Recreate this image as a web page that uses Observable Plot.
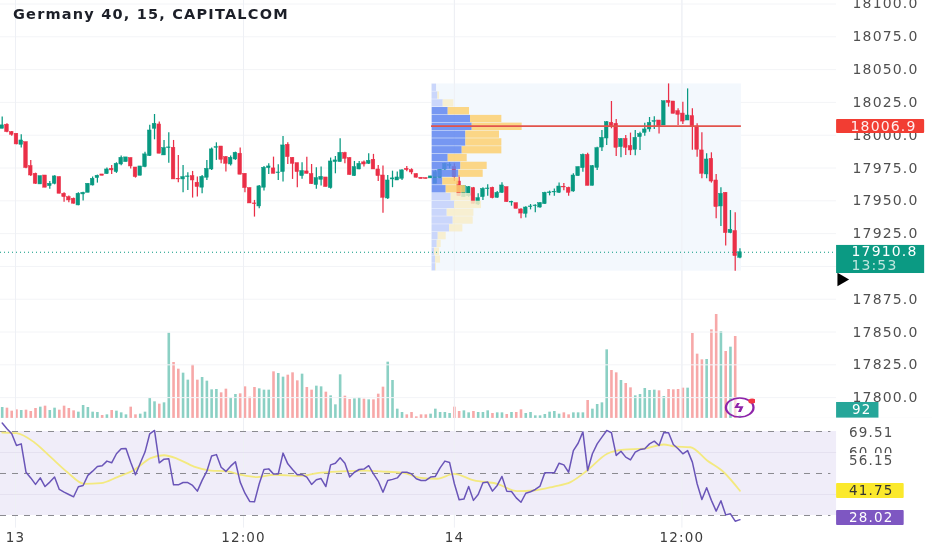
<!DOCTYPE html>
<html><head><meta charset="utf-8">
<script src="https://cdn.jsdelivr.net/npm/d3@7"></script>
<script src="https://cdn.jsdelivr.net/npm/@observablehq/plot@0.6"></script>
<style>
html,body{margin:0;padding:0;background:#fff;width:932px;height:550px;overflow:hidden}
#stage{position:relative;width:932px;height:550px;overflow:hidden;filter:blur(.3px)}
.layer{position:absolute;left:0;top:0}
.layer svg{display:block;background:transparent}
svg text{letter-spacing:1.15px}
#title{position:absolute;left:13px;top:6px;font:700 14.5px "DejaVu Sans",sans-serif;color:#1c1f28;letter-spacing:1.2px;white-space:nowrap}
#logo{position:absolute;left:728px;top:396px;width:22px;height:22px;transform:scaleX(1.45)}
</style></head><body>
<div id="stage"><div id="title">Germany 40, 15, CAPITALCOM</div></div>
<script>
const opens=[18004.9,18008,18002.4,18001.1,17992.7,17994.7,17976.5,17970.6,17962.5,17969.3,
17961.2,17963,17968.1,17955.4,17952.8,17951.6,17946.5,17954.9,17956.1,17961.7,
17967.3,17970.1,17970.4,17974.4,17971.9,17977.7,17979.5,17982.6,17975.4,17969.1,
17975.7,17984.1,18004.9,18008.2,17984.6,17990.2,17990.4,17966.8,17966.3,17968.1,
17968.8,17963.8,17960,17967.6,17973.9,17990.4,17991.4,17983.3,17977.7,17981.5,
17985.9,17970.6,17959.7,17948,17945.7,17960,17974.9,17974.7,17971.1,17971.9,
17992.7,17982.8,17978.7,17968.8,17972.4,17970.4,17962,17966,17967.8,17959.7,
17979.5,17979.5,17986.4,17982.6,17968.8,17973.9,17979.3,17978.2,17981.3,17973.9,
17969.3,17951.8,17966.3,17965.5,17966.8,17974.4,17973.4,17970.4,17967.6,17967.3,
17967.1,17963,17967.3,17973.9,17976.7,17975.7,17964.7,17952.8,17953.5,17959.6,
17947.2,17952.8,17958.9,17959.9,17952.3,17956.1,17960.4,17948.7,17948.2,17943.4,
17940.1,17945.2,17945.9,17944.9,17947.5,17955.8,17956.4,17956.1,17960.7,17959.9,
17957.1,17968.8,17974.9,17985,17961.4,17975.1,17990.6,17997.5,18009.4,18008.7,
17990.9,17997.2,17991.7,17988.9,17998.5,18001.8,18004.4,18010.2,18011.2,18007.4,
18026.2,18025.7,18018.3,18016.5,18011.2,18014.5,18006.6,17988.4,17970.1,17982,
17965.5,17945.7,17956.1,17925.4,17926.9,17906.6];
const closes=[18007.5,18002.4,18000.3,17993,17996,17975,17969.3,17963,17968.8,17960,
17963,17968.6,17955.4,17952.8,17950.3,17947.8,17955.4,17956.1,17963,17966.8,
17969.1,17969.1,17973.9,17973.2,17978.2,17982.8,17983.1,17976.2,17968.1,17976.2,
17985.4,18003.6,18008.7,17985.9,17990.2,17990.7,17966.3,17966.3,17968.1,17968.6,
17965.5,17960.5,17968.3,17974.4,17989.2,17990.9,17981.3,17978.2,17982.8,17986.6,
17969.9,17959.7,17948,17947.5,17961,17975.2,17976.2,17970.6,17971.6,17992.2,
17983.3,17978.2,17971.9,17972.7,17970.6,17962.7,17967.3,17968.3,17960.5,17980,
17980.8,17986.6,17982,17969.6,17975.7,17978.2,17977.7,17980.5,17973.9,17968.8,
17952.3,17965.5,17967.1,17967.8,17973.2,17973.4,17971.6,17967.6,17966.6,17966.6,
17968.6,17971.8,17973.6,17978.2,17977.2,17968,17953.5,17961.2,17960.4,17947.7,
17952,17959.1,17959.4,17952,17956.1,17961.7,17949,17949.2,17943.9,17940.3,
17944.9,17945.7,17946.4,17948.2,17956.1,17956.4,17956.9,17960.9,17960.2,17956.1,
17969.3,17975.7,17985,17961.4,17976.4,17990.1,17998,18009.9,18006.9,17990.4,
17997,17990.4,17988.4,17998,18001,18004.4,18009.4,18010.7,18006.9,18025.9,
18024.7,18016.3,18015.5,18010.4,18015,18006.1,17988.9,17970.6,17981.5,17964.7,
17945.2,17955.3,17925.4,17927.9,17907.8,17910.8];
const highs=[18013.8,18008.7,18002.9,18001.1,18000.3,17994.7,17980.8,17971.1,17968.8,17969.3,
17964.8,17969.1,17968.1,17956.1,17953.6,17952.1,17956.1,17956.6,17963,17968.1,
17969.6,17970.1,17975,17977,17979,17984.1,17983.1,17982.6,17975.4,17976.2,
17987.1,18007.5,18015.8,18010,17996,18001.9,17996,17984.6,17977,17971.4,
17972.4,17968.1,17969.3,17980.8,17990.2,17994.2,17991.4,17983.8,17984.1,17987.1,
17990.2,17970.6,17959.7,17950.3,17961.7,17976.2,17978.2,17983.3,17977.5,17999.1,
17994.2,17982.8,17978.7,17979,17983.3,17977.7,17975.2,17975.7,17967.8,17982.6,
17983.8,17997.3,17987.1,17982.8,17980,17980,17980.3,17985.9,17985.4,17977,
17976.5,17969.3,17972.6,17971.9,17973.7,17976.2,17974.4,17970.6,17967.6,17967.3,
17968.6,17973.1,17973.6,17978.7,17979,17978.2,17969.3,17961.7,17960.9,17960.2,
17955.3,17959.9,17962.2,17960.4,17957.1,17963.7,17960.4,17949.7,17948.2,17943.9,
17945.4,17947.2,17947,17948.7,17956.6,17957.4,17959.1,17963.5,17963.2,17960.4,
17970.6,17975.7,17985.6,17986.3,17976.9,17990.9,18003.6,18010.4,18025.7,18012,
17997.5,17999.8,18001.6,18003.6,18002.3,18009.2,18013.5,18014,18011.2,18025.9,
18039.1,18025.7,18020.1,18025.2,18035.3,18020.1,18008.7,18001.8,17985.8,17986.6,
17970.1,17959.9,17956.1,17942.6,17940.9,17913.4];
const lows=[18004.9,18001.9,17999.3,17992.7,17990.2,17974.4,17968.6,17962.5,17962.5,17960,
17958.9,17962.2,17955.4,17949,17948.5,17947.5,17946.2,17949.8,17956.1,17961.2,
17963.5,17969.1,17970.1,17970.1,17970.9,17976.7,17979.5,17974.2,17967.3,17969.1,
17975.2,17983.8,17996.5,17985.9,17984.6,17978.7,17966.3,17963.8,17956.1,17957.9,
17952.1,17952.9,17955.4,17965.5,17973.2,17980.8,17978.2,17971.9,17976.5,17980.8,
17969.9,17956.1,17948,17937.6,17943.9,17957.4,17970.1,17970.6,17965.5,17964.3,
17977.7,17966.3,17960,17966.5,17970.4,17962.5,17958.9,17961.2,17960.5,17958.9,
17970.6,17979.5,17978.2,17969.6,17968.6,17973.7,17975.7,17977.7,17973.9,17964.8,
17940.6,17951.1,17960,17965.5,17965.5,17972.1,17969.9,17967.3,17966.6,17966.6,
17967.1,17963,17966.8,17973.1,17974.4,17964.7,17953.5,17952.8,17952.8,17947.7,
17946.4,17950.3,17953.5,17951.5,17952,17955.6,17949,17945.9,17943.9,17936.3,
17937,17943.1,17940.9,17944.4,17947.2,17953.8,17953.5,17955.6,17957.6,17953.5,
17956.6,17968.8,17971.8,17961.4,17961.4,17973.1,17987.6,17992.2,18004.9,17983.8,
17982.8,17984.5,17984.5,17984.3,17988.4,17999.3,18002.3,18004.4,18001,18007.4,
18021.4,18016.3,18007.4,18008.2,18011.2,17988.6,17983.3,17966.8,17966.8,17963.5,
17936.3,17930.4,17915.5,17924.9,17896.4,17905.8];
const volumes=[330,310,220,260,240,250,210,300,340,370,
240,310,250,370,300,230,190,390,330,190,
180,90,110,240,220,170,110,340,110,130,
190,600,500,430,470,2560,1680,1480,1360,1150,
1600,1150,1230,1120,860,870,770,880,610,720,
740,950,640,930,890,850,850,1400,1350,1240,
1300,1370,1130,1330,930,850,970,950,790,680,
410,1310,670,570,590,630,580,560,560,730,
940,1690,1140,280,180,110,180,50,110,110,
130,280,180,180,150,340,210,230,170,210,
180,180,230,150,170,170,120,180,180,260,
150,180,80,80,120,190,210,130,170,110,
170,170,170,540,280,420,470,2060,1440,1370,
1140,1050,920,680,720,900,840,850,830,660,
870,860,870,910,910,2550,1930,1760,1770,2660,
3120,2610,2010,2140,2460,92];
const rsi=[74.0,71.3,68.9,63.3,64.1,50.6,47.9,44.8,47.9,43.8,45.9,48.3,42.4,41.1,40.0,38.9,43.7,44.3,49.1,51.1,
53.3,53.7,55.9,55.1,59.4,61.8,61.9,55.4,49.4,54.9,60.2,68.9,70.5,55.1,56.8,57.0,44.6,44.6,45.7,45.7,
44.3,41.6,46.7,51.1,58.3,59.0,53.0,51.0,53.5,55.6,45.9,40.6,36.7,36.5,45.1,51.9,52.2,49.8,49.8,59.7,
54.6,51.9,49.4,49.5,48.3,44.8,47.0,47.6,43.8,54.1,54.9,57.5,54.9,48.3,50.6,51.9,52.1,53.7,49.8,46.4,41.1,
46.7,47.2,47.9,50.6,50.6,49.8,47.5,46.7,46.7,48.3,48.6,52.7,55.9,55.2,45.1,37.5,37.8,43.8,37.2,40.0,
45.6,45.9,41.6,44.3,48.6,41.6,41.4,38.4,36.3,40.6,41.3,42.4,44.0,50.3,50.3,50.3,54.9,54.1,50.6,60.9,
64.4,69.8,51.4,59.4,64.1,67.3,70.5,69.4,58.6,60.6,57.8,56.5,60.2,61.4,61.8,64.1,65.4,63.3,69.5,69.4,
63.8,61.8,59.4,60.9,55.4,45.1,37.6,43.2,37.2,32.1,37.0,30.3,30.8,27.3,28.02];
const maBars=[0,3,6.7,10.2,13.7,17.2,20.7,24.2,27.7,31.2,34,36.8,40.3,43.8,47.3,50.1,53.6,57.1,62.7,66.2,71.1,76.7,79.5,
84.2,88,91.4,94.9,99.1,104,108.2,111.7,115.9,119.4,122.9,127.1,130.6,134.8,139,141.1,144.6,148.1,151.6,155];
const maValues=[69.5,69.2,64.9,57.8,50.6,45.1,45.4,48.3,51.7,57.3,58.7,57.0,53.3,51.4,51.0,49.4,48.3,49.4,48.9,50.2,51.0,51.4,51.0,
50.3,47.9,47.5,49.8,46.7,45.1,41.6,41.9,43.8,45.9,51.4,59.4,61.4,61.8,63.8,62.9,62.5,56.2,50.6,41.75];
const rowTops=[18039.1,18033.2,18027.2,18021.3,18015.3,18009.4,18003.4,17997.5,17991.5,17985.6,17979.6,17973.7,17967.7,17961.8,17955.8,17949.9,17943.9,17938,17932,17926.1,17920.1,17914.2,17908.2,17902.3];
const rowBottoms=[18033.2,18027.2,18021.3,18015.3,18009.4,18003.4,17997.5,17991.5,17985.6,17979.6,17973.7,17967.7,17961.8,17955.8,17949.9,17943.9,17938,17932,17926.1,17920.1,17914.2,17908.2,17902.3,17896.4];
const rowUp=[13,17,33,48,115,120,101,101,90,48,86,80,32,42,57,67,45,63,52,18,15,7,10,10];
const rowTotal=[13,22,65,112,209,270,202,209,209,105,165,153,80,100,115,148,125,123,92,42,27,22,25,13];
const valueAreaHigh=18021.3, valueAreaLow=17955.8, poc=18006.9, lastPrice=17910.8;
const profileStart=90.2, profileEnd=155.3;
const priceTicks=[18100,18075,18050,18025,18000,17975,17950,17925,17875,17850,17825,17800];
const gridTicks=[18100,18075,18050,18025,18000,17975,17950,17925,17900,17875,17850,17825,17800];
const timeBars=[2.8,50.7,95,142.8];
const timeLabels=["13","12:00","14","12:00"];
const rsiLabels=[69.51,60,56.15];

const GREEN="#089981",RED="#ea2f47",TXT="#505050",FONT="DejaVu Sans";
const xMin=-0.357,xMax=195.45,paneEnd=175.3;
const stage=document.getElementById("stage");
function layer(H,yDomain,marks,extra={}){
  const svg=Plot.plot({width:932,height:H,margin:0,
    x:{type:"linear",domain:[xMin,xMax],range:[0,932],axis:null},
    y:{type:"linear",domain:yDomain,range:[H,0],axis:null},
    style:{background:"transparent"},marks,...extra});
  const d=document.createElement("div");d.className="layer";d.appendChild(svg);stage.appendChild(d);
}
const candles=opens.map((o,i)=>({i,o,c:closes[i],h:highs[i],l:lows[i],v:volumes[i]}));
const up=candles.filter(d=>d.c>=d.o),down=candles.filter(d=>d.c<d.o);

// RSI pane (lowest layer, also the time axis)
const rsiDom=[13.33,275.24];
layer(550,rsiDom,[
  Plot.rect([0],{x1:xMin,x2:paneEnd,y1:30,y2:70,fill:"#f0edf9"}),
  Plot.ruleX(timeBars,{y1:24,y2:rsiDom[1],stroke:"#eef0f5"}),
  Plot.ruleY([60,40],{x1:xMin,x2:paneEnd,stroke:"#e5e1f0"}),
  Plot.ruleY([70,50,30],{x1:xMin,x2:paneEnd-1.2,stroke:"#8a8a90",strokeDasharray:"6,6"}),
  Plot.line(maValues.map((v,k)=>({b:maBars[k],v})),{x:"b",y:"v",stroke:"#f3e97f",strokeWidth:1.8,curve:"monotone-x"}),
  Plot.line(rsi.map((v,i)=>({i,v})),{x:"i",y:"v",stroke:"#6a55b8",strokeWidth:1.5}),
  Plot.text(timeLabels.map((t,k)=>({t,b:timeBars[k]})),{x:"b",y:19.5,text:"t",fontFamily:FONT,fontSize:13.5,fill:"#3c3c3c",fontWeight:d=>d.t.length<3?"bold":"normal"}),
  // axis labels
  Plot.text(rsiLabels.slice(0,2),{y:d=>d,text:d=>d.toFixed(2),frameAnchor:"right",dx:-39,fontFamily:FONT,fontSize:13.5,fill:TXT}),
  Plot.rect([0],{x1:paneEnd,x2:xMax,y1:52.9,y2:59.5,fill:"#fff"}),
  Plot.text([56.15],{y:d=>d,text:d=>d.toFixed(2),frameAnchor:"right",dx:-39,fontFamily:FONT,fontSize:13.5,fill:TXT}),
  Plot.rect([0],{x1:paneEnd,x2:189.5,y1:38.1,y2:45.24,fill:"#fbe92c",rx:1}),
  Plot.text([41.75],{y:d=>d,text:d=>d.toFixed(2),frameAnchor:"right",dx:-39,fontFamily:FONT,fontSize:13.5,fill:"#333"}),
  Plot.rect([0],{x1:paneEnd,x2:189.5,y1:25.24,y2:32.38,fill:"#7e57c2",rx:1}),
  Plot.text([28.82],{y:d=>d,text:()=>"28.02",frameAnchor:"right",dx:-39,fontFamily:FONT,fontSize:13.5,fill:"#fff"}),
]);

// Volume overlay
const volDom=[0,12540];
layer(418,volDom,[
  Plot.ruleX(up,{x:"i",y1:0,y2:"v",stroke:"#8bd0c4",strokeWidth:2.6}),
  Plot.ruleX(down,{x:"i",y1:0,y2:"v",stroke:"#f7a8a8",strokeWidth:2.6}),
]);

// Price pane
const priceDom=[17784.1,18102.67];
layer(418,priceDom,[
  Plot.ruleY(gridTicks,{x1:xMin,x2:paneEnd,stroke:"#f3f4f7"}),
  Plot.rect([0],{x1:profileStart,x2:profileEnd,y1:rowBottoms[rowBottoms.length-1],y2:rowTops[0],fill:"#f3f8fd"}),
  Plot.ruleX(timeBars,{y1:priceDom[0],y2:priceDom[1],stroke:"#eef0f5"}),
  Plot.ruleX(up,{x:"i",y1:"l",y2:"h",stroke:GREEN,strokeWidth:1.25}),
  Plot.ruleX(down,{x:"i",y1:"l",y2:"h",stroke:RED,strokeWidth:1.25}),
  Plot.rect(up,{x1:d=>d.i-.38,x2:d=>d.i+.38,y1:"o",y2:"c",fill:GREEN,stroke:GREEN,strokeWidth:.5}),
  Plot.rect(down,{x1:d=>d.i-.38,x2:d=>d.i+.38,y1:"o",y2:"c",fill:RED,stroke:RED,strokeWidth:.5}),
  Plot.text(priceTicks,{y:d=>d,text:d=>d.toFixed(1),frameAnchor:"right",dx:-14,fontFamily:FONT,fontSize:14,fill:TXT}),
]);

// Volume profile (own horizontal scale)
const rows=rowTops.map((t,k)=>({t,b:rowBottoms[k],u:rowUp[k],n:rowTotal[k],va:t<=valueAreaHigh&&rowBottoms[k]>=valueAreaLow}));
{
  const svg=Plot.plot({width:932,height:418,marginLeft:431.7,marginRight:0,marginTop:0,marginBottom:0,
    x:{type:"linear",domain:[0,1501.5],axis:null},
    y:{type:"linear",domain:priceDom,range:[418,0],axis:null},
    style:{background:"transparent"},
    marks:[
      Plot.rect(rows.filter(d=>!d.va),{x1:0,x2:"u",y1:"b",y2:"t",fill:"#c5d2fb",fillOpacity:.9,insetTop:.25,insetBottom:.25}),
      Plot.rect(rows.filter(d=>!d.va),{x1:"u",x2:"n",y1:"b",y2:"t",fill:"#f7edc9",fillOpacity:.85,insetTop:.25,insetBottom:.25}),
      Plot.rect(rows.filter(d=>d.va),{x1:0,x2:"u",y1:"b",y2:"t",fill:"#5f86f0",fillOpacity:.85,insetTop:.25,insetBottom:.25}),
      Plot.rect(rows.filter(d=>d.va),{x1:"u",x2:"n",y1:"b",y2:"t",fill:"#fbd071",fillOpacity:.85,insetTop:.25,insetBottom:.25}),
    ]});
  const d=document.createElement("div");d.className="layer";d.appendChild(svg);stage.appendChild(d);
}

// Overlay: POC, last price line and boxed labels
layer(418,priceDom,[
  Plot.ruleY([poc],{x1:profileStart,x2:profileEnd,stroke:"#e2534b",strokeWidth:1.8}),
  Plot.ruleY([lastPrice],{x1:xMin,x2:paneEnd,stroke:GREEN,strokeDasharray:"1,3"}),
  Plot.ruleY([17784.2],{x1:xMin,x2:xMax,stroke:"#e6e8ee"}),
  Plot.rect([0],{x1:paneEnd,x2:193.8,y1:18001.3,y2:18012,fill:"#f23d33",rx:1}),
  Plot.text([poc],{y:d=>d,text:d=>d.toFixed(1),frameAnchor:"right",dx:-16,fontFamily:FONT,fontSize:14,fill:"#ffeeee"}),
  Plot.rect([0],{x1:paneEnd,x2:193.8,y1:17894.6,y2:17916,fill:"#0b9a83"}),
  Plot.text([lastPrice],{y:17911.4,text:d=>d.toFixed(1),frameAnchor:"right",dx:-15,fontFamily:FONT,fontSize:14,fill:"#fff"}),
  Plot.text(["13:53"],{y:17901,text:d=>d,frameAnchor:"right",dx:-35,fontFamily:FONT,fontSize:14,fill:"#bfe6de"}),
  Plot.dot([0],{x:176.3,y:17890,symbol:"triangle",r:5,fill:"#000",rotate:90}),
  Plot.rect([0],{x1:paneEnd,x2:184.2,y1:17784.4,y2:17796.3,fill:"#26a699"}),
  Plot.text(["92"],{y:17790.5,text:d=>d,frameAnchor:"right",dx:-61,fontFamily:FONT,fontSize:13.5,fill:"#fff"}),
]);

// Logo badge
{
  const svg=Plot.plot({width:22,height:22,margin:0,style:{background:"transparent"},marks:[
    Plot.dot([0],{frameAnchor:"middle",r:9.5,stroke:"#8e24aa",strokeWidth:1.6,fill:"#fff",fillOpacity:.6}),
    Plot.text(["ϟ"],{frameAnchor:"middle",text:d=>d,fontFamily:FONT,fontWeight:"bold",fontSize:13,fill:"#8e24aa"}),
    Plot.dot([0],{frameAnchor:"middle",dx:8.5,dy:-6.5,r:2.6,fill:"#f23645"}),
  ]});
  const d=document.createElement("div");d.id="logo";d.appendChild(svg);stage.appendChild(d);
}
stage.appendChild(document.getElementById("title"));
</script></body></html>
